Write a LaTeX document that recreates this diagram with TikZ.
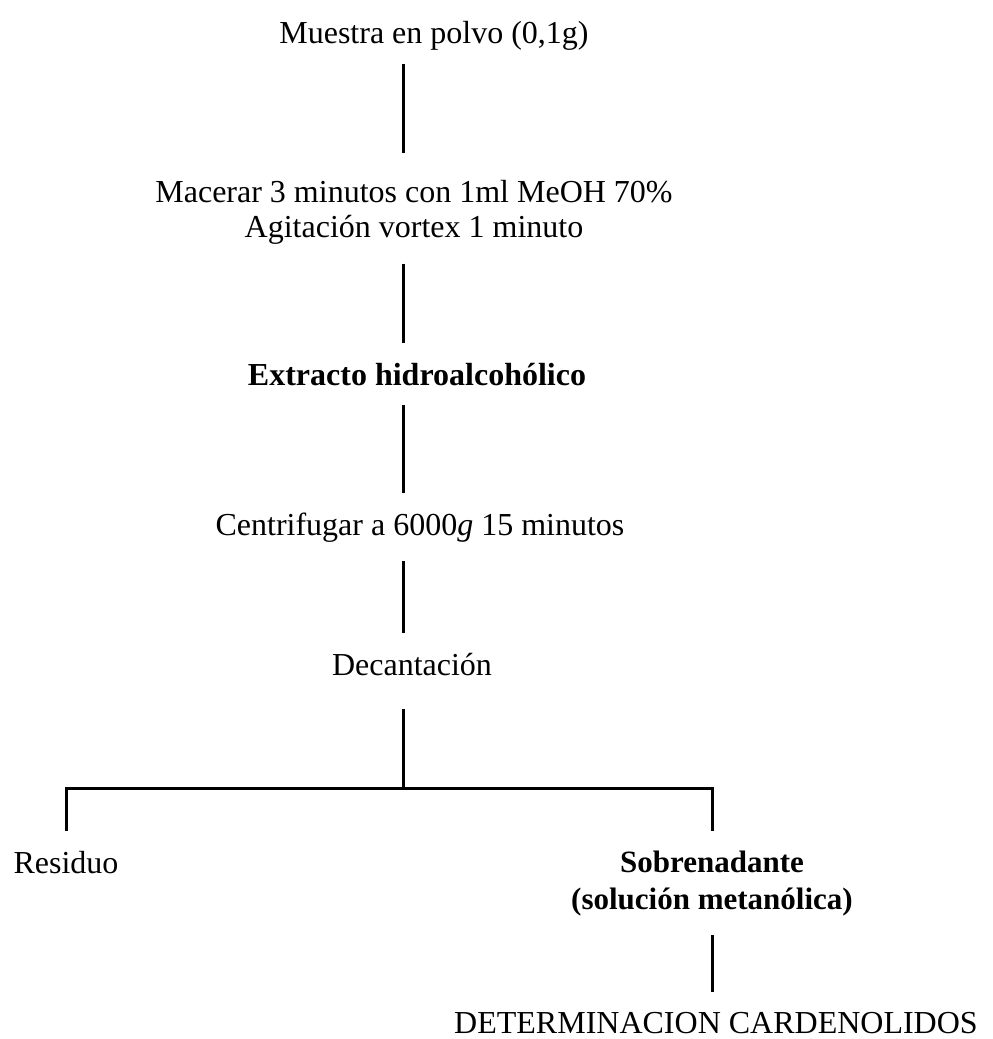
\documentclass[tikz,border=0pt]{standalone}
\usepackage{fontspec}
\setmainfont{Liberation Serif}
\usetikzlibrary{positioning}

\begin{document}
\begin{tikzpicture}[x=1pt, y=-1pt, line width=3pt,
  every node/.style={inner sep=0pt, align=center, font=\fontsize{32}{35}\selectfont},
  link/.style={shorten <=18pt, shorten >=18pt}]
\useasboundingbox (0,0) rectangle (993,1039);
\coordinate (spine) at (403,0);
\coordinate (split) at (403,788);
% main column
\node[anchor=base] (muestra) at (434,43) {Muestra en polvo (0,1g)};
\node[anchor=north] (macerar) at (414,178.5) {Macerar 3 minutos con 1ml MeOH 70\%\\Agitación vortex 1 minuto};
\node[anchor=base] (extracto) at (417,385) {\textbf{Extracto hidroalcohólico}};
\node[anchor=base] (centrif) at (420,535) {Centrifugar a 6000\textit{g} 15 minutos};
\node[anchor=base] (decant) at (412,675) {Decantación};
% the two fractions
\node[anchor=base] (residuo) at (66,873) {Residuo};
\node[anchor=north, font=\fontsize{31}{37}\selectfont\bfseries] (sobren) at (712,849) {Sobrenadante\\(solución metanólica)};
\node[anchor=base] (determ) at (716,1033) {DETERMINACION CARDENOLIDOS};
\draw[link, shorten <=13pt, shorten >=26pt] (muestra.south -| spine) -- (macerar.north -| spine);
\draw[link] (macerar.south -| spine) -- (extracto.north -| spine);
\draw[link] (extracto.south -| spine) -- (centrif.north -| spine);
\draw[link] (centrif.south -| spine) -- (decant.north -| spine);
\draw[shorten <=32pt] (decant.south -| spine) -- (split);
\draw[link] (residuo.north) -- (residuo.north |- split) -- (sobren.north |- split) -- (sobren.north);
\draw[link] (sobren.south) -- (sobren.south |- determ.north);
\end{tikzpicture}
\end{document}
